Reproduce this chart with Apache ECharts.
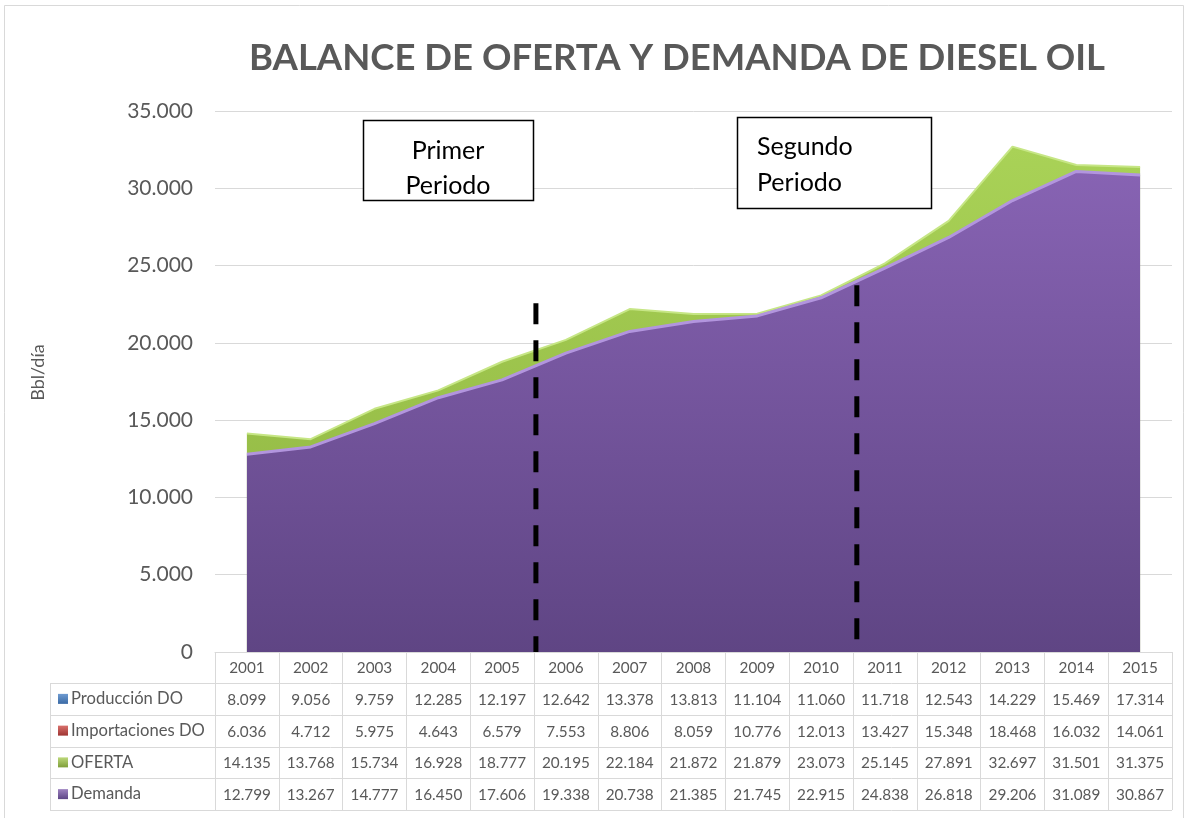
<!DOCTYPE html>
<html>
<head>
<meta charset="utf-8">
<title>Balance de oferta y demanda de Diesel Oil</title>
<script src="https://cdn.jsdelivr.net/npm/echarts@6/dist/echarts.min.js"></script>
<style>
  html, body { margin: 0; padding: 0; background: #fff; }
  #chart { width: 1193px; height: 818px; }
</style>
</head>
<body>
<div id="chart"></div>
<script>
// datos (Bbl/día)
const years = ['2001', '2002', '2003', '2004', '2005', '2006', '2007', '2008', '2009', '2010', '2011', '2012', '2013', '2014', '2015']
const produccion = [8099, 9056, 9759, 12285, 12197, 12642, 13378, 13813, 11104, 11060, 11718, 12543, 14229, 15469, 17314]
const importaciones = [6036, 4712, 5975, 4643, 6579, 7553, 8806, 8059, 10776, 12013, 13427, 15348, 18468, 16032, 14061]
const oferta = [14135, 13768, 15734, 16928, 18777, 20195, 22184, 21872, 21879, 23073, 25145, 27891, 32697, 31501, 31375]
const demanda = [12799, 13267, 14777, 16450, 17606, 19338, 20738, 21385, 21745, 22915, 24838, 26818, 29206, 31089, 30867]
const yTicks = [0, 5000, 10000, 15000, 20000, 25000, 30000, 35000]

// lineas de periodo: posicion en indice de categoria, extremos en Bbl/día
const periodX = [4.53, 9.56]
const periodTop = [22560, 23730]
const periodBottom = [0, 580]

const tableRows = [
  { name: 'Producción DO', values: produccion, c1: '#6f9bd1', c2: '#3a6aa5' },
  { name: 'Importaciones DO', values: importaciones, c1: '#d9706c', c2: '#9e3532' },
  { name: 'OFERTA', values: oferta, c1: '#bcd87a', c2: '#7f9e3a' },
  { name: 'Demanda', values: demanda, c1: '#9d82c0', c2: '#5d4585' }
]

const fmt = (n) => String(n).replace(/\B(?=(\d{3})+(?!\d))/g, '.')

const FONT = 'Lato, "Open Sans", sans-serif'
const GRAY = '#595959'
const LINE = '#d9d9d9'

// geometria de la tabla
const plotLeft = 215
const plotRight = 1172
const axisY = 652
const tableLeft = 50
const headerH = 31
const rowH = 31.75

const chart = echarts.init(document.getElementById('chart'))

const graphics = []
// borde exterior del grafico
graphics.push({
  type: 'rect',
  shape: { x: 4.5, y: 5.5, width: 1179, height: 840 },
  style: { fill: 'none', stroke: LINE, lineWidth: 1 },
  silent: true
})
// lineas horizontales de la tabla
for (let i = 0; i <= tableRows.length; i++) {
  const y = Math.round(axisY + headerH + i * rowH) + 0.5
  graphics.push({
    type: 'line',
    shape: { x1: tableLeft, y1: y, x2: plotRight, y2: y },
    style: { stroke: LINE, lineWidth: 1 },
    silent: true
  })
}
graphics.push({
  type: 'line',
  shape: { x1: tableLeft + 0.5, y1: axisY + headerH, x2: tableLeft + 0.5, y2: Math.round(axisY + headerH + tableRows.length * rowH) + 0.5 },
  style: { stroke: LINE, lineWidth: 1 },
  silent: true
})
// etiquetas de fila con su clave de color
tableRows.forEach((row, i) => {
  const cy = axisY + headerH + (i + 0.5) * rowH
  graphics.push({
    type: 'rect',
    shape: { x: 58, y: cy - 5, width: 10, height: 10 },
    style: {
      fill: new echarts.graphic.LinearGradient(0, 0, 0, 1, [
        { offset: 0, color: row.c1 },
        { offset: 1, color: row.c2 }
      ])
    },
    silent: true
  })
  graphics.push({
    type: 'text',
    style: {
      text: row.name, x: 71, y: cy,
      align: 'left', verticalAlign: 'middle',
      textAlign: 'left', textVerticalAlign: 'middle',
      fontFamily: FONT, fontSize: 16.6, fill: GRAY
    },
    silent: true
  })
})
// cuadros de texto
graphics.push({
  type: 'rect',
  shape: { x: 363.5, y: 120.5, width: 170, height: 80 },
  style: { fill: '#fff', stroke: '#000', lineWidth: 1.5 },
  z: 10, silent: true
})
graphics.push({
  type: 'text',
  style: {
    text: 'Primer\nPeriodo', x: 448, y: 168,
    align: 'center', verticalAlign: 'middle',
    textAlign: 'center', textVerticalAlign: 'middle',
    fontFamily: FONT, fontSize: 25, lineHeight: 35, fill: '#000'
  },
  z: 11, silent: true
})
graphics.push({
  type: 'rect',
  shape: { x: 737.5, y: 117.5, width: 194, height: 91 },
  style: { fill: '#fff', stroke: '#000', lineWidth: 1.5 },
  z: 10, silent: true
})
graphics.push({
  type: 'text',
  style: {
    text: 'Segundo\nPeriodo', x: 757, y: 165,
    align: 'left', verticalAlign: 'middle',
    textAlign: 'left', textVerticalAlign: 'middle',
    fontFamily: FONT, fontSize: 25, lineHeight: 36, fill: '#000'
  },
  z: 11, silent: true
})

const periodSeries = periodX.map((x, i) => ({
  type: 'line',
  xAxisIndex: 1,
  yAxisIndex: 0,
  data: [[x, periodTop[i]], [x, periodBottom[i]]],
  symbol: 'none',
  silent: true,
  z: 5,
  lineStyle: { color: '#000', width: 5, type: [21, 16] }
}))

const option = {
  animation: false,
  backgroundColor: '#fff',
  title: {
    text: 'BALANCE DE OFERTA Y DEMANDA DE DIESEL OIL',
    left: 672,
    top: 35,
    textAlign: 'center',
    textStyle: { fontFamily: FONT, fontSize: 36.5, fontWeight: 'bold', color: GRAY }
  },
  grid: {
    left: plotLeft,
    right: 1193 - plotRight,
    top: 111,
    bottom: 818 - axisY
  },
  xAxis: [
    {
      type: 'category',
      data: years,
      boundaryGap: true,
      axisLine: { lineStyle: { color: LINE, width: 1 } },
      axisTick: {
        show: true,
        interval: 0,
        length: Math.round(headerH + tableRows.length * rowH),
        lineStyle: { color: LINE, width: 1 }
      },
      axisLabel: {
        interval: 0,
        margin: 1,
        formatter: (value, idx) => {
          const lines = ['{h|' + value + '}']
          tableRows.forEach(r => lines.push('{v|' + fmt(r.values[idx]) + '}'))
          return lines.join('\n')
        },
        rich: {
          h: { fontFamily: FONT, fontSize: 15.3, color: GRAY, lineHeight: headerH },
          v: { fontFamily: FONT, fontSize: 15.3, color: GRAY, lineHeight: rowH }
        }
      }
    },
    {
      type: 'value',
      min: -0.5,
      max: years.length - 0.5,
      show: false
    }
  ],
  yAxis: {
    type: 'value',
    min: yTicks[0],
    max: yTicks[yTicks.length - 1],
    interval: yTicks[1] - yTicks[0],
    name: 'Bbl/día',
    nameLocation: 'middle',
    nameRotate: 90,
    nameGap: 168,
    nameTextStyle: { fontFamily: FONT, fontSize: 18, color: GRAY, padding: [0, 0, 0, 18] },
    axisLine: { show: false },
    axisTick: { show: false },
    axisLabel: {
      margin: 22,
      fontFamily: FONT,
      fontSize: 21,
      color: GRAY,
      formatter: (v) => fmt(v)
    },
    splitLine: { lineStyle: { color: LINE, width: 1 } }
  },
  series: [
    {
      name: 'OFERTA',
      type: 'line',
      data: oferta,
      symbol: 'none',
      z: 2,
      lineStyle: { color: '#c6e685', width: 2 },
      areaStyle: {
        opacity: 1,
        color: new echarts.graphic.LinearGradient(0, 0, 0, 1, [
          { offset: 0, color: '#a9d257' },
          { offset: 1, color: '#8db23f' }
        ])
      }
    },
    {
      name: 'Demanda',
      type: 'line',
      data: demanda,
      symbol: 'none',
      z: 3,
      lineStyle: { color: '#b295de', width: 3 },
      areaStyle: {
        opacity: 1,
        color: new echarts.graphic.LinearGradient(0, 0, 0, 1, [
          { offset: 0, color: '#8763b3' },
          { offset: 1, color: '#5f4584' }
        ])
      }
    },
    ...periodSeries
  ],
  graphic: graphics
}

chart.setOption(option)
</script>
</body>
</html>
